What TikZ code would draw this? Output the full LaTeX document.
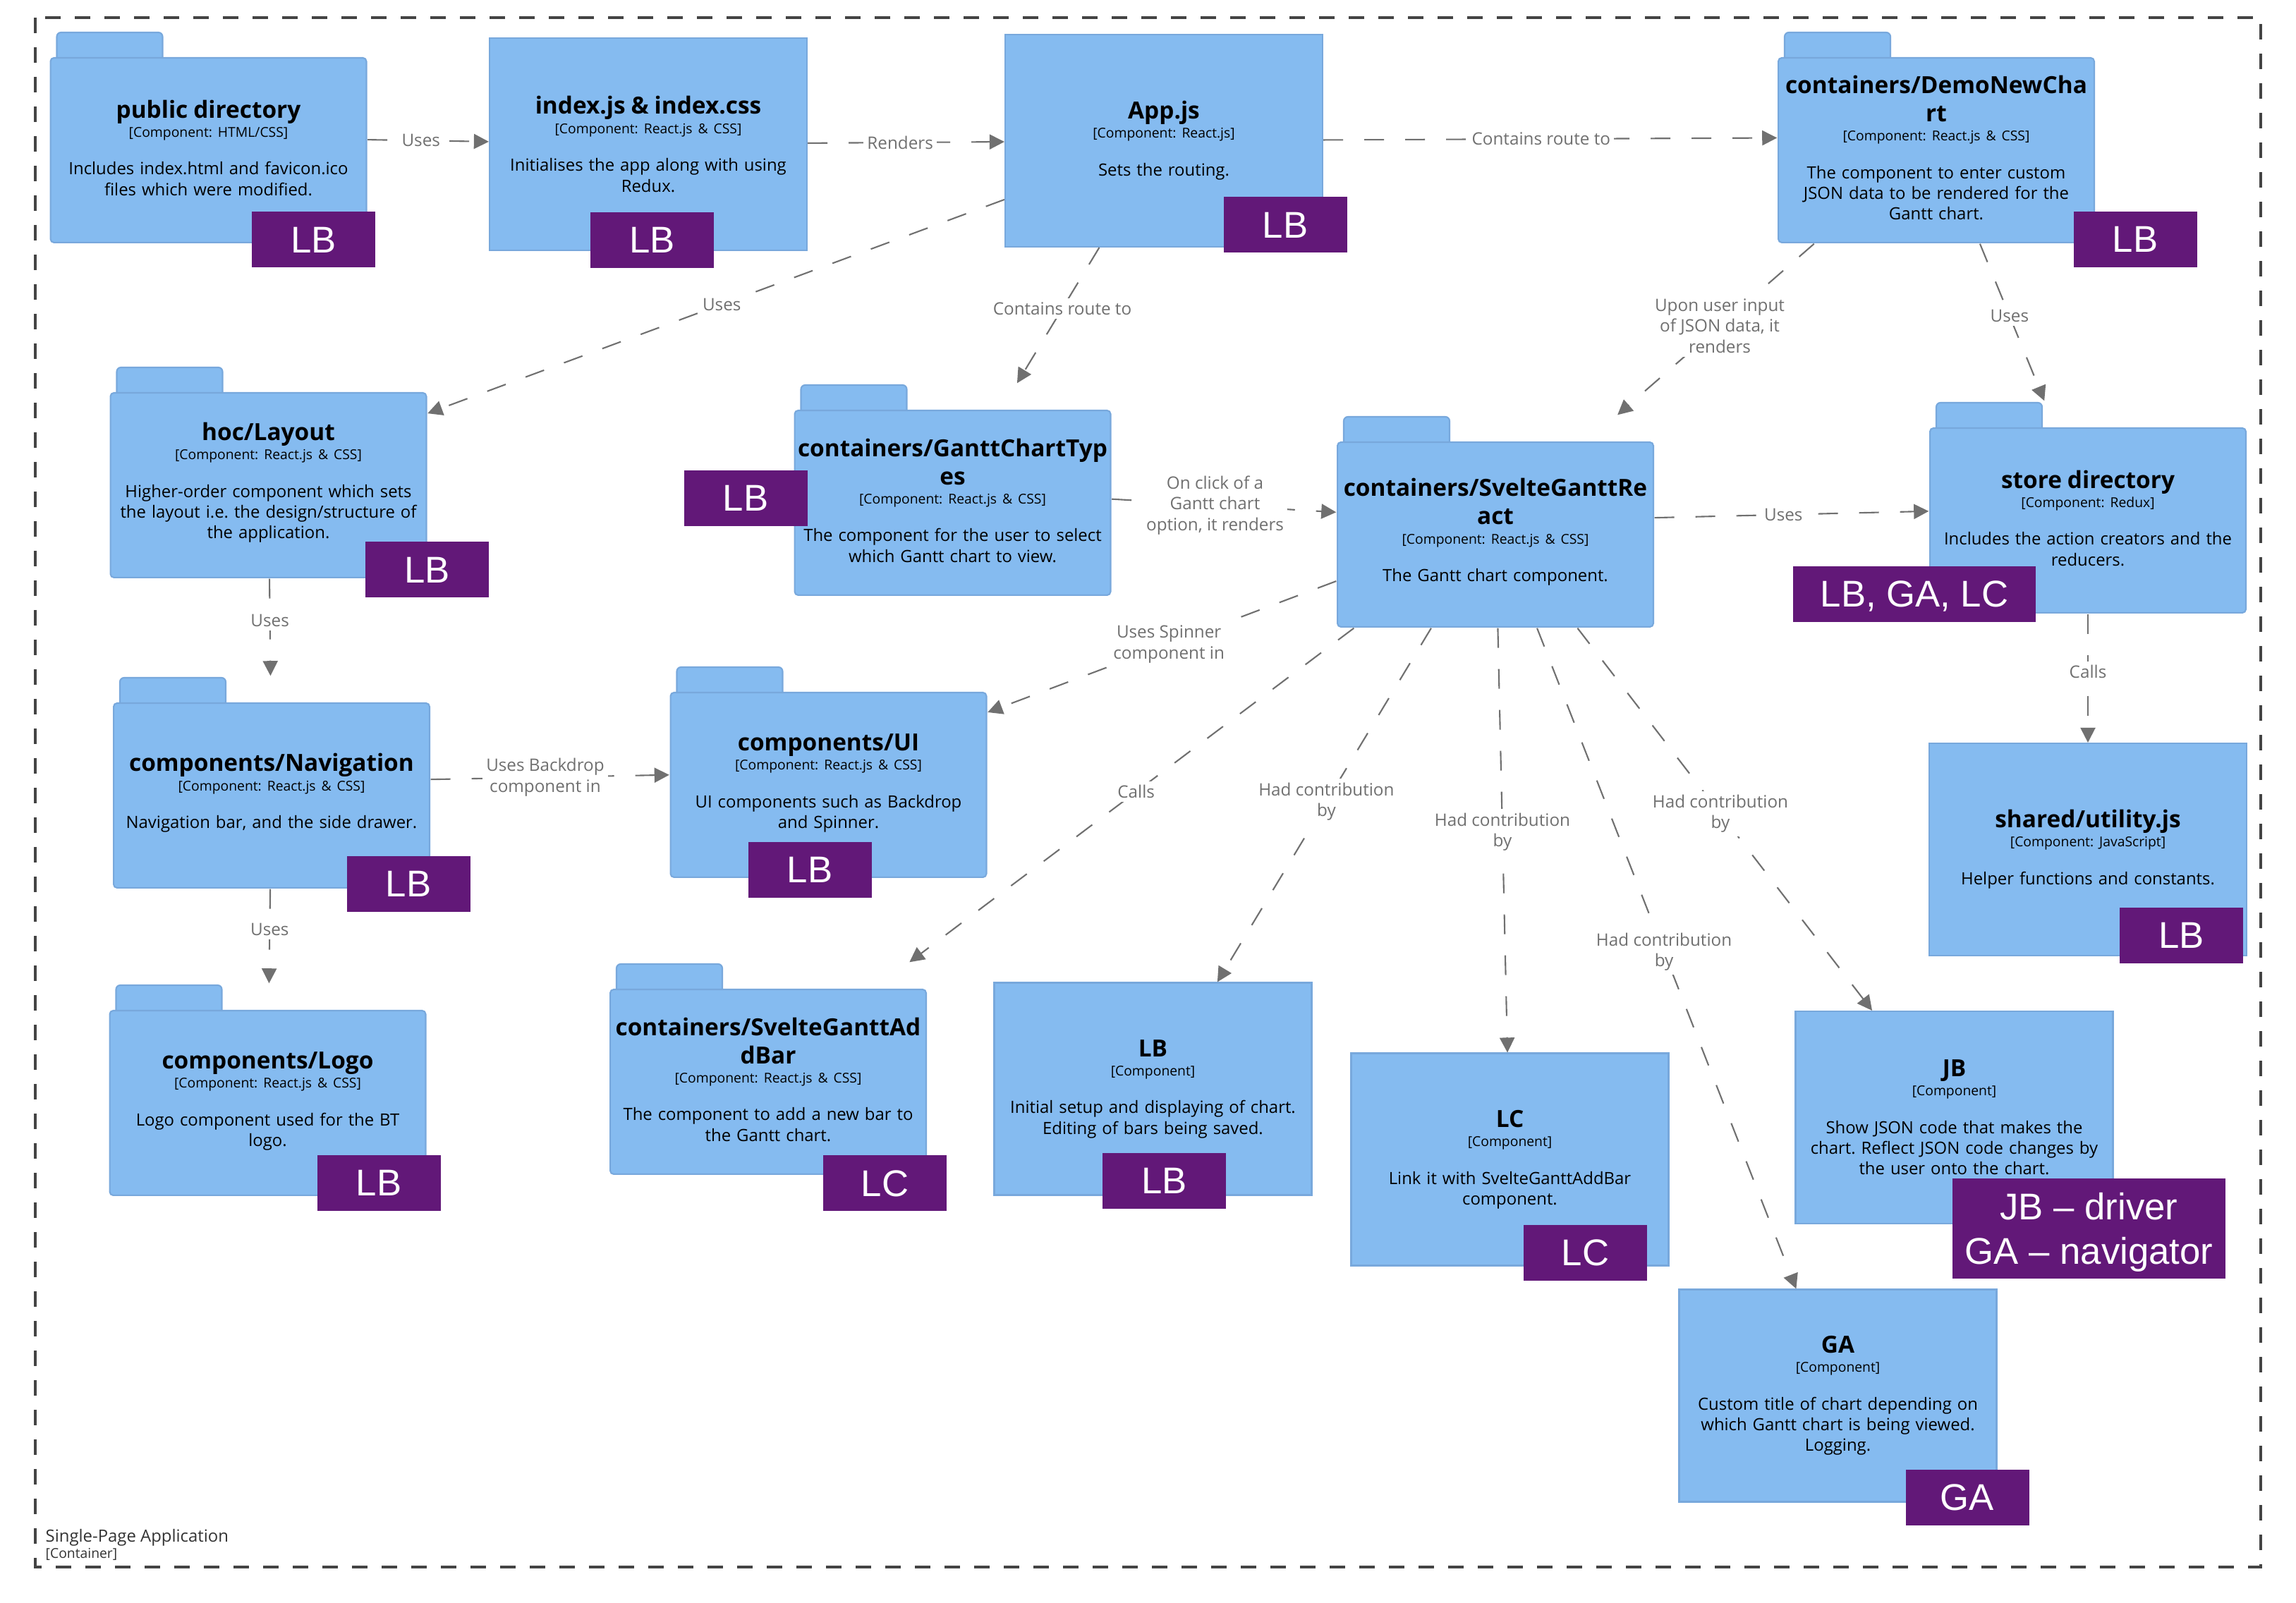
\documentclass[tikz,border=0pt]{standalone}
\usepackage{fontspec}
\setmainfont{Open Sans}
\newfontfamily\badgefont{Liberation Sans}
\usepackage{xcolor}
\usepackage{tikz}
\usetikzlibrary{shapes,arrows.meta,positioning,calc}

\definecolor{compblue}{HTML}{85BBF0}
\definecolor{compline}{HTML}{78A8DC}
\definecolor{badgepurple}{HTML}{621878}
\definecolor{relgray}{HTML}{707070}
\definecolor{boundgray}{HTML}{444444}

\hyphenpenalty=10000
\exhyphenpenalty=10000
\frenchspacing

% fonts of the component boxes
\newcommand{\ctitle}{\fontsize{9.5pt}{11.4pt}\selectfont\bfseries}
\newcommand{\cmeta}{\fontsize{5.5pt}{7.7pt}\selectfont}
\newcommand{\cdesc}{\fontsize{6.8pt}{8.3pt}\selectfont}
\newcommand{\comptext}[3]{{\ctitle #1\par}{\cmeta [#2]\par}\vspace{7pt}#3\par}

\begin{document}
\begin{tikzpicture}[
    comp/.style={rectangle, fill=compblue, draw=compline, line width=0.6pt,
      minimum width=4.5cm, minimum height=3.01cm, inner sep=0pt,
      text width=4.5cm, align=center, font=\cdesc},
    folder/.style={rectangle, minimum width=4.5cm, minimum height=3.01cm, inner sep=0pt,
      text width=4.5cm, align=center, font=\cdesc,
      execute at begin node={\rule{0pt}{15.8pt}},
      path picture={
        \filldraw[fill=compblue, draw=compline, line width=0.6pt, rounded corners=0.06cm]
          ([xshift=0.1cm,yshift=-0.38cm]path picture bounding box.north west)
          -- ([xshift=0.1cm,yshift=-0.02cm]path picture bounding box.north west)
          -- ([xshift=1.6cm,yshift=-0.02cm]path picture bounding box.north west)
          -- ([xshift=1.6cm,yshift=-0.38cm]path picture bounding box.north west);
        \filldraw[fill=compblue, draw=compline, line width=0.6pt, rounded corners=0.05cm]
          ([xshift=0.3pt,yshift=-0.38cm]path picture bounding box.north west)
          rectangle ([xshift=-0.3pt,yshift=0.3pt]path picture bounding box.south east);
      }},
    badge/.style={rectangle, fill=badgepurple, text=white, inner sep=0pt,
      minimum width=1.75cm, minimum height=0.79cm, align=center, text depth=0pt,
      font=\badgefont\fontsize{15pt}{18pt}\selectfont},
    rel/.style={draw=relgray, line width=0.6pt, dash pattern=on 0.28cm off 0.3cm,
      -{Triangle[length=6pt,width=6pt]}},
    elabel/.style={fill=white, text=relgray, inner sep=1.5pt, align=center,
      font=\fontsize{6.9pt}{8.4pt}\selectfont},
    boundary/.style={draw=boundgray, line width=0.9pt, dash pattern=on 0.22cm off 0.2cm}
  ]
    \useasboundingbox (0,0) rectangle (32.55,-22.73);
    \draw [boundary] (0.5,-0.25) rectangle (32.05,-22.22);
    \node [anchor=base west, font=\cdesc, text=black!80, inner sep=0pt] (spa) at (0.64,-21.86) {Single-Page Application};
    \node [anchor=base west, font=\cmeta, text=black!80, inner sep=0pt] (spatype) at (0.64,-22.09) {[Container]};

    % components
    \node [folder] (pub) at (2.955,-1.945) {\comptext{public directory}{Component: HTML/CSS}{Includes index.html and favicon.ico\\files which were modified.}};
    \node [comp] (idx) at (9.19,-2.045) {\comptext{index.js \& index.css}{Component: React.js \& CSS}{Initialises the app along with using\\Redux.}};
    \node [comp] (app) at (16.50,-1.995) {\comptext{App.js}{Component: React.js}{Sets the routing.}};
    \node [folder] (demo) at (27.45,-1.945) {\comptext{containers/DemoNewCha\\rt}{Component: React.js \& CSS}{The component to enter custom\\JSON data to be rendered for the\\Gantt chart.}};
    \node [folder] (hoc) at (3.805,-6.695) {\comptext{hoc/Layout}{Component: React.js \& CSS}{Higher-order component which sets\\the layout i.e. the design/structure of\\the application.}};
    \node [folder] (gtypes) at (13.505,-6.945) {\comptext{containers/GanttChartTyp\\es}{Component: React.js \& CSS}{The component for the user to select\\which Gantt chart to view.}};
    \node [folder] (sgr) at (21.20,-7.395) {\comptext{containers/SvelteGanttRe\\act}{Component: React.js \& CSS}{The Gantt chart component.}};
    \node [folder] (store) at (29.60,-7.195) {\comptext{store directory}{Component: Redux}{Includes the action creators and the\\reducers.}};
    \node [folder] (nav) at (3.85,-11.095) {\comptext{components/Navigation}{Component: React.js \& CSS}{Navigation bar, and the side drawer.}};
    \node [folder] (ui) at (11.745,-10.945) {\comptext{components/UI}{Component: React.js \& CSS}{UI components such as Backdrop\\and Spinner.}};
    \node [comp] (util) at (29.60,-12.045) {\comptext{shared/utility.js}{Component: JavaScript}{Helper functions and constants.}};
    \node [folder] (logo) at (3.795,-15.455) {\comptext{components/Logo}{Component: React.js \& CSS}{Logo component used for the BT\\logo.}};
    \node [folder] (addbar) at (10.89,-15.155) {\comptext{containers/SvelteGanttAd\\dBar}{Component: React.js \& CSS}{The component to add a new bar to\\the Gantt chart.}};
    \node [comp] (lbc) at (16.345,-15.44) {\comptext{LB}{Component}{Initial setup and displaying of chart.\\Editing of bars being saved.}};
    \node [comp] (lcc) at (21.405,-16.44) {\comptext{LC}{Component}{Link it with SvelteGanttAddBar\\component.}};
    \node [comp] (jbc) at (27.705,-15.845) {\comptext{JB}{Component}{Show JSON code that makes the\\chart. Reflect JSON code changes by\\the user onto the chart.}};
    \node [comp] (gac) at (26.055,-19.79) {\comptext{GA}{Component}{Custom title of chart depending on\\which Gantt chart is being viewed.\\Logging.}};

    % relationships
    \path [rel] (pub) -- node [elabel, pos=.44] (r1) {Uses} (idx);
    \path [rel] (idx) -- node [elabel, pos=.47] (r2) {Renders} (app);
    \path [rel] (app) -- node [elabel, pos=.48] (r3) {Contains route to} (demo);
    \path [rel] (app) -- node [elabel, pos=.49] (r4) {Uses} (hoc);
    \path [rel] (app) -- node [elabel, pos=.45] (r5) {Contains route to} (gtypes);
    \path [rel] (demo) -- node [elabel, pos=.48] (r6) {Upon user input\\of JSON data, it\\renders} (sgr);
    \path [rel] (demo) -- node [elabel, pos=.46] (r7) {Uses} (store);
    \path [rel] (gtypes) -- node [elabel, pos=.46] (r8) {On click of a\\Gantt chart\\option, it renders} (sgr);
    \path [rel] (sgr) -- node [elabel, pos=.47] (r9) {Uses} (store);
    \path [rel] (sgr) -- node [elabel, pos=.48] (r10) {Uses Spinner\\component in} (ui);
    \path [rel] (sgr) -- node [elabel, pos=.49] (r11) {Calls} (addbar);
    \path [rel] (sgr) -- node [elabel, pos=.49] (r12) {Had contribution\\by} (lbc);
    \path [rel] (sgr) -- node [elabel, pos=.48] (r13) {Had contribution\\by} (lcc);
    \path [rel] (sgr) -- node [elabel, pos=.49] (r14) {Had contribution\\by} (gac);
    \path [rel] (sgr) -- node [elabel, pos=.485] (r15) {Had contribution\\by} (jbc);
    \path [rel] (store) -- node [elabel, pos=.45] (r16) {Calls} (util);
    \path [rel] (hoc) -- node [elabel, pos=.43] (r17) {Uses} (nav);
    \path [rel] (nav) -- node [elabel, pos=.48] (r18) {Uses Backdrop\\component in} (ui);
    \path [rel] (nav) -- node [elabel, pos=.43] (r19) {Uses} (logo);

    % contributor badges
    \node [badge] (pubb) at (4.445,-3.40) {LB};
    \node [badge] (idxb) at (9.245,-3.405) {LB};
    \node [badge] (appb) at (18.22,-3.19) {LB};
    \node [badge] (demob) at (30.27,-3.395) {LB};
    \node [badge] (hocb) at (6.055,-8.08) {LB};
    \node [badge] (gtypesb) at (10.57,-7.065) {LB};
    \node [badge, minimum width=3.44cm] (storeb) at (27.14,-8.425) {LB, GA, LC};
    \node [badge] (navb) at (5.79,-12.535) {LB};
    \node [badge] (uib) at (11.48,-12.335) {LB};
    \node [badge] (utilb) at (30.925,-13.265) {LB};
    \node [badge] (logob) at (5.37,-16.775) {LB};
    \node [badge] (addbarb) at (12.545,-16.78) {LC};
    \node [badge] (lbcb) at (16.505,-16.745) {LB};
    \node [badge] (lccb) at (22.475,-17.765) {LC};
    \node [badge, minimum width=3.87cm, minimum height=1.42cm] (jbcb) at (29.615,-17.42) {JB – driver\\GA – navigator};
    \node [badge] (gacb) at (27.89,-21.23) {GA};
\end{tikzpicture}
\end{document}
